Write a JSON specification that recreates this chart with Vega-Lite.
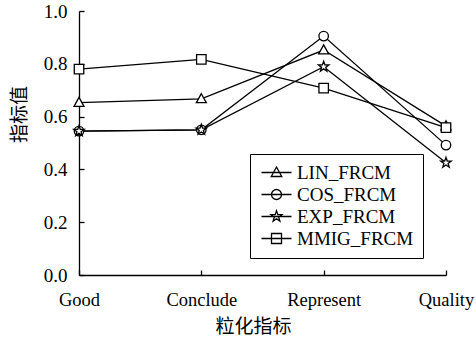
{
  "$schema": "https://vega.github.io/schema/vega-lite/v6.json",
  "autosize": {"type": "none"},
  "width": 367,
  "height": 264,
  "padding": {"left": 79, "top": 11, "right": 30, "bottom": 66},
  "background": "white",
  "config": {
    "view": {"stroke": null},
    "axis": {
      "domainColor": "black",
      "domainWidth": 1.3,
      "tickColor": "black",
      "tickWidth": 1.3,
      "tickSize": -5,
      "grid": false,
      "labelFont": "Liberation Serif",
      "labelFontSize": 19,
      "labelColor": "black",
      "titleFont": "Noto Sans CJK SC",
      "titleFontSize": 19,
      "titleFontWeight": "normal",
      "titleColor": "black"
    }
  },
  "data": {
    "values": [
      {"g": "Good", "s": "LIN_FRCM", "v": 0.653},
      {"g": "Conclude", "s": "LIN_FRCM", "v": 0.667},
      {"g": "Represent", "s": "LIN_FRCM", "v": 0.852},
      {"g": "Quality", "s": "LIN_FRCM", "v": 0.564},
      {"g": "Good", "s": "COS_FRCM", "v": 0.545},
      {"g": "Conclude", "s": "COS_FRCM", "v": 0.55},
      {"g": "Represent", "s": "COS_FRCM", "v": 0.905},
      {"g": "Quality", "s": "COS_FRCM", "v": 0.492},
      {"g": "Good", "s": "EXP_FRCM", "v": 0.545},
      {"g": "Conclude", "s": "EXP_FRCM", "v": 0.55},
      {"g": "Represent", "s": "EXP_FRCM", "v": 0.789},
      {"g": "Quality", "s": "EXP_FRCM", "v": 0.425},
      {"g": "Good", "s": "MMIG_FRCM", "v": 0.78},
      {"g": "Conclude", "s": "MMIG_FRCM", "v": 0.817},
      {"g": "Represent", "s": "MMIG_FRCM", "v": 0.708},
      {"g": "Quality", "s": "MMIG_FRCM", "v": 0.558}
    ]
  },
  "encoding": {
    "x": {
      "field": "g",
      "type": "ordinal",
      "sort": ["Good", "Conclude", "Represent", "Quality"],
      "scale": {"type": "point", "padding": 0},
      "axis": {
        "labelAngle": 0,
        "labelPadding": 20,
        "labelFontSize": 18.5,
        "title": "粒化指标",
        "titleX": 174,
        "titleY": 51,
        "titleAlign": "center",
        "titleBaseline": "middle"
      }
    },
    "y": {
      "field": "v",
      "type": "quantitative",
      "scale": {"domain": [0, 1], "nice": false},
      "axis": {
        "values": [0, 0.2, 0.4, 0.6, 0.8, 1.0],
        "format": ".1f",
        "labelPadding": 17,
        "title": "指标值",
        "titleX": -60,
        "titleY": 103,
        "titleAlign": "center",
        "titleBaseline": "middle"
      }
    }
  },
  "layer": [
    {
      "mark": {"type": "line", "color": "black", "strokeWidth": 1.3},
      "encoding": {"detail": {"field": "s"}}
    },
    {
      "mark": {"type": "point", "filled": true, "fill": "white", "stroke": "black", "strokeWidth": 1.3, "size": 90, "opacity": 1},
      "encoding": {
        "shape": {
          "field": "s",
          "type": "nominal",
          "scale": {
            "domain": ["LIN_FRCM", "COS_FRCM", "EXP_FRCM", "MMIG_FRCM"],
            "range": [
              "M0,-1.1L1.05,0.8L-1.05,0.8Z",
              "circle",
              "M0,-1.15L0.27,-0.37L1.1,-0.36L0.44,0.14L0.68,0.93L0,0.46L-0.68,0.93L-0.44,0.14L-1.1,-0.36L-0.27,-0.37Z",
              "square"
            ]
          },
          "legend": null
        }
      }
    },
    {
      "mark": {"type": "point", "opacity": 0},
      "encoding": {
        "shape": {
          "field": "s",
          "type": "nominal",
          "scale": {
            "domain": ["LIN_FRCM", "COS_FRCM", "EXP_FRCM", "MMIG_FRCM"],
            "range": [
              "M-3,0H3M0,-1.1L1.05,0.8L-1.05,0.8Z",
              "M-3,0H3M1,0A1,1,0,1,1,-1,0A1,1,0,1,1,1,0Z",
              "M-3,0H3M0,-1.15L0.27,-0.37L1.1,-0.36L0.44,0.14L0.68,0.93L0,0.46L-0.68,0.93L-0.44,0.14L-1.1,-0.36L-0.27,-0.37Z",
              "M-3,0H3M-1,-1H1V1H-1Z"
            ]
          },
          "legend": {
            "title": null,
            "orient": "none",
            "legendX": 171,
            "legendY": 143,
            "padding": 9,
            "symbolOffset": 8,
            "symbolSize": 100,
            "symbolFillColor": "white",
            "symbolStrokeColor": "black",
            "symbolStrokeWidth": 1.3,
            "symbolOpacity": 1,
            "labelOffset": 11,
            "labelFont": "Liberation Serif",
            "labelFontSize": 19,
            "labelColor": "black",
            "rowPadding": 2,
            "fillColor": "white",
            "strokeColor": "black"
          }
        }
      }
    }
  ],
  "resolve": {"scale": {"shape": "independent"}, "legend": {"shape": "independent"}}
}
